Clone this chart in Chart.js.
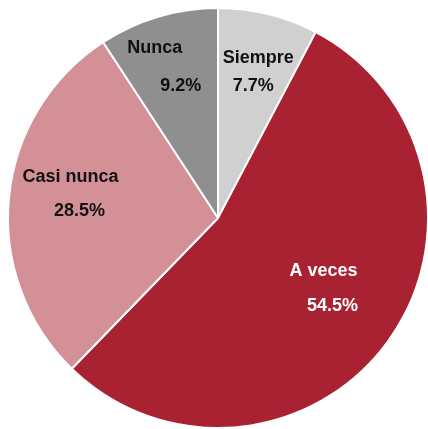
<!DOCTYPE html>
<html><head><meta charset="utf-8">
<script src="https://cdn.jsdelivr.net/npm/chart.js@4/dist/chart.umd.min.js"></script>
<style>html,body{margin:0;padding:0;background:#fff;overflow:hidden}#wrap{position:absolute;left:0;top:0;width:440px;height:440px}</style>
</head><body><div id="wrap"><canvas id="c"></canvas></div>
<script>
const categories = ["Siempre", "A veces", "Casi nunca", "Nunca"];
const values = [7.7, 54.5, 28.5, 9.2];
const pctLabels = ["7.7%", "54.5%", "28.5%", "9.2%"];
const colors = ["#D0D0D0", "#A92232", "#D49097", "#8F8F8F"];
const textColors = ["#111", "#fff", "#111", "#111"];
// label offsets (px) from arc anchor point at 0.72 radius: [nameDx, nameDy, pctDx, pctDy]
const labelOffsets = [[4,-13,-1,15],[-17,-36,-8,-1],[3,-26,12,8],[-20,-25,6,13]];

const labelPlugin = {
  id: 'lbl',
  afterDatasetsDraw(chart) {
    const ctx = chart.ctx;
    const meta = chart.getDatasetMeta(0);
    ctx.save();
    ctx.font = 'bold 18px "Liberation Sans", Arial, sans-serif';
    ctx.textAlign = 'center';
    ctx.textBaseline = 'middle';
    meta.data.forEach((arc, i) => {
      const p = arc.getProps(['x','y','startAngle','endAngle','outerRadius'], true);
      const mid = (p.startAngle + p.endAngle) / 2;
      const r = p.outerRadius * 0.72;
      const ax = p.x + Math.cos(mid) * r, ay = p.y + Math.sin(mid) * r;
      const o = labelOffsets[i];
      ctx.fillStyle = textColors[i];
      ctx.fillText(categories[i], ax + o[0], ay + o[1]);
      ctx.fillText(pctLabels[i], ax + o[2], ay + o[3]);
    });
    ctx.restore();
  }
};

new Chart(document.getElementById('c'), {
  type: 'pie',
  data: { labels: categories, datasets: [{ data: values, backgroundColor: colors, borderColor: '#fff', borderWidth: 2 }] },
  options: {
    responsive: true, maintainAspectRatio: false, animation: false,
    layout: { padding: { left: 7, top: 7, right: 11, bottom: 11 } },
    plugins: { legend: { display: false }, tooltip: { enabled: false } }
  },
  plugins: [labelPlugin]
});
</script></body></html>
